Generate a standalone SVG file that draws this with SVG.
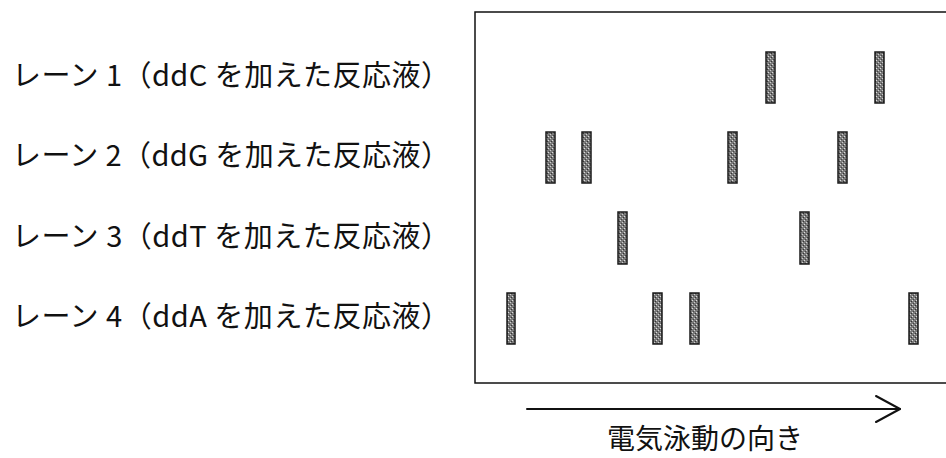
<svg xmlns="http://www.w3.org/2000/svg" width="946" height="458" viewBox="0 0 946 458">
<style>
.lbl{font-family:"Noto Sans CJK JP","Liberation Sans",sans-serif;font-size:29px;fill:#111;}
.dir{font-family:"Noto Sans CJK JP","Liberation Sans",sans-serif;font-size:28px;fill:#111;}
.band{fill:url(#grain);stroke:#1a1a1a;stroke-width:1.5;}
.frame{fill:none;stroke:#111;stroke-width:1.5;}
.arr{fill:none;stroke:#111;stroke-width:2;stroke-linecap:round;stroke-linejoin:round;}
</style>
<defs>
<pattern id="grain" width="4" height="4" patternUnits="userSpaceOnUse">
<rect width="4" height="4" fill="#7a7a7a"/>
<rect x="0" y="0" width="1" height="1" fill="#ddd"/>
<rect x="2" y="2" width="1" height="1" fill="#ccc"/>
<rect x="3" y="1" width="1" height="1" fill="#333"/>
<rect x="1" y="3" width="1" height="1" fill="#444"/>
</pattern>
</defs>
<g id="gel">
<rect class="frame" x="475" y="12" width="472" height="371"/>
</g>
<g id="lane1">
<text class="lbl" x="12" y="86" textLength="438" lengthAdjust="spacing" xml:space="preserve">レーン 1（ddC を加えた反応液）</text>
<rect class="band" x="766" y="52" width="9" height="51"/>
<rect class="band" x="875" y="52" width="9" height="51"/>
</g>
<g id="lane2">
<text class="lbl" x="12" y="166" textLength="438" lengthAdjust="spacing" xml:space="preserve">レーン 2（ddG を加えた反応液）</text>
<rect class="band" x="546" y="132" width="9" height="51"/>
<rect class="band" x="582" y="132" width="9" height="51"/>
<rect class="band" x="728" y="132" width="9" height="51"/>
<rect class="band" x="838" y="132" width="9" height="51"/>
</g>
<g id="lane3">
<text class="lbl" x="12" y="247" textLength="438" lengthAdjust="spacing" xml:space="preserve">レーン 3（ddT を加えた反応液）</text>
<rect class="band" x="618" y="212" width="9" height="52"/>
<rect class="band" x="800" y="212" width="9" height="52"/>
</g>
<g id="lane4">
<text class="lbl" x="12" y="327" textLength="438" lengthAdjust="spacing" xml:space="preserve">レーン 4（ddA を加えた反応液）</text>
<rect class="band" x="507" y="293" width="8" height="51"/>
<rect class="band" x="653" y="293" width="9" height="51"/>
<rect class="band" x="690" y="293" width="9" height="51"/>
<rect class="band" x="909" y="293" width="9" height="51"/>
</g>
<g id="connectors">
<line class="arr" x1="527" y1="409" x2="900" y2="409"/>
<polyline class="arr" points="876,396 900,409 876,422"/>
</g>
<g id="direction-label">
<text class="dir" x="705" y="449" text-anchor="middle">電気泳動の向き</text>
</g>
</svg>
